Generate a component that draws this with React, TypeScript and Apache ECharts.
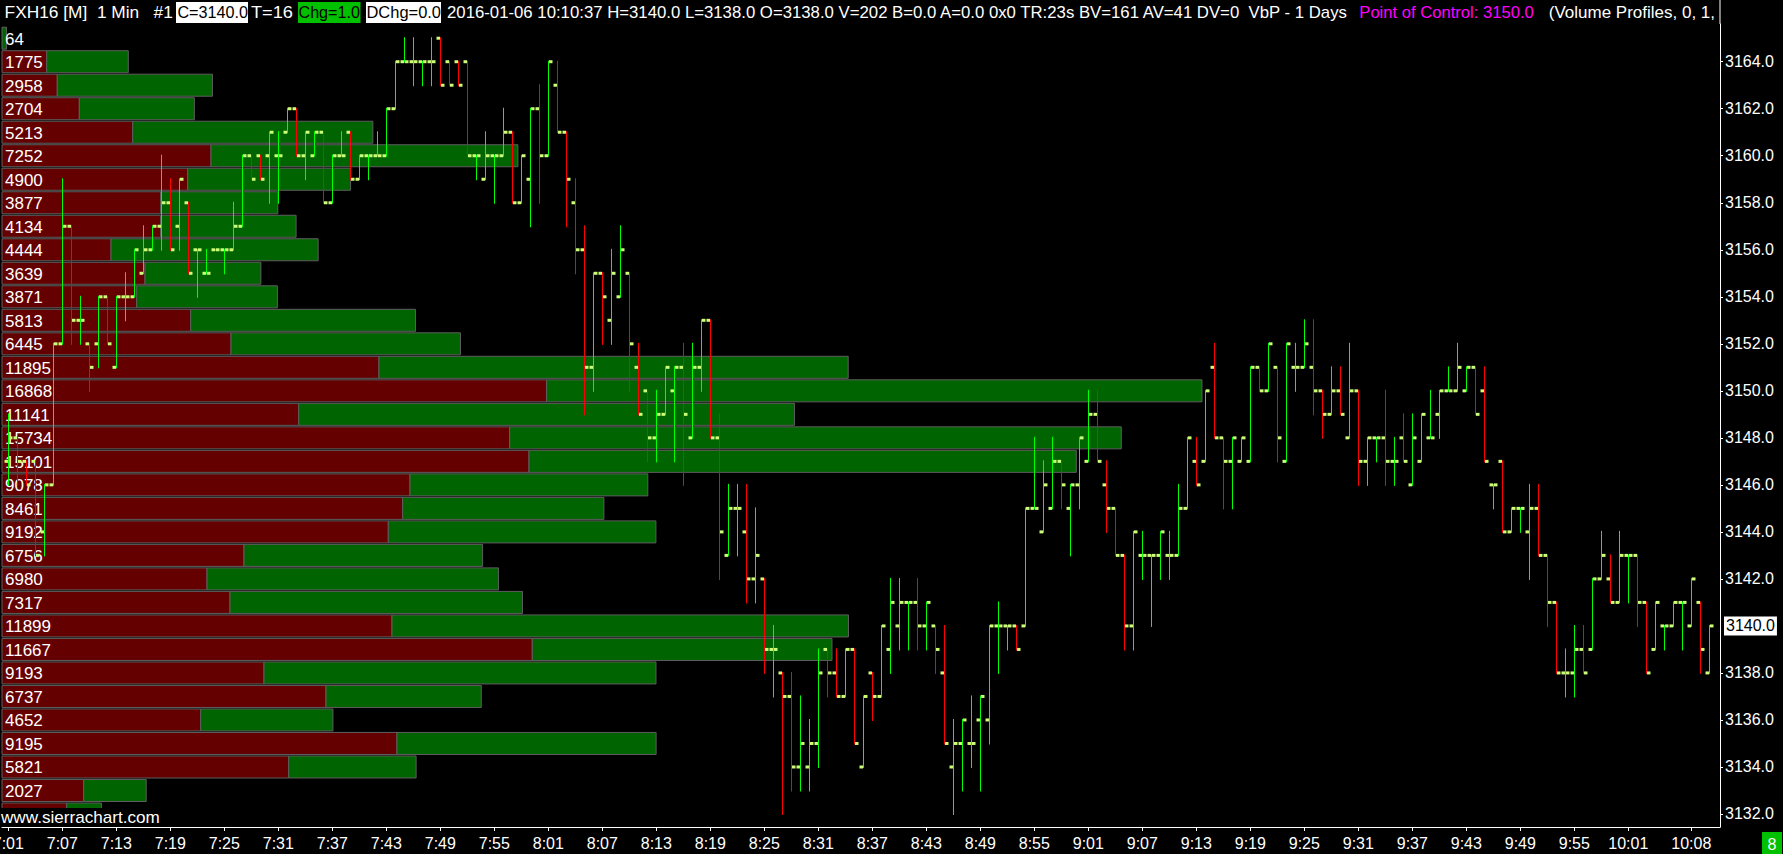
import React, { useEffect, useRef } from "react";
import * as echarts from "echarts";

const FONT = '"Liberation Sans", Arial, sans-serif';

// ---- Volume profile (one row per price level, top to bottom) ----
const profilePrices = [3165, 3164, 3163, 3162, 3161, 3160, 3159, 3158, 3157, 3156, 3155, 3154, 3153, 3152, 3151, 3150, 3149, 3148, 3147, 3146, 3145, 3144, 3143, 3142, 3141, 3140, 3139, 3138, 3137, 3136, 3135, 3134, 3133, 3132];
const profileTotals = [64, 1775, 2958, 2704, 5213, 7252, 4900, 3877, 4134, 4444, 3639, 3871, 5813, 6445, 11895, 16868, 11141, 15734, 15101, 9078, 8461, 9192, 6756, 6980, 7317, 11899, 11667, 9193, 6737, 4652, 9195, 5821, 2027, 1397];
const profileBid = [0, 628, 777, 1087, 1837, 2938, 2610, 2231, 2231, 1532, 2010, 1893, 2652, 3219, 5299, 7656, 4170, 7136, 7408, 5735, 5632, 5430, 3402, 2882, 3205, 5482, 7454, 3683, 4554, 2793, 5552, 4030, 1148, 909];

// ---- 1-minute OHLC bars from 7:01 ----
const opens = [3147,3148,3147,3147,3144,3146,3152,3157,3153,3152,3152,3154,3151,3154,3154,3155,3156,3157,3158,3157,3158,3156,3155,3156,3156,3156,3157,3160,3160,3160,3160,3161,3162,3160,3160,3161,3158,3160,3161,3159,3160,3160,3160,3162,3164,3164,3164,3164,3165,3164,3164,3164,3160,3159,3160,3160,3161,3158,3159,3162,3160,3163,3161,3158,3156,3151,3155,3153,3154,3155,3151,3150,3148,3149,3150,3151,3148,3151,3153,3148,3143,3145,3144,3142,3142,3139,3138,3137,3134,3134,3135,3139,3138,3137,3139,3134,3138,3137,3139,3140,3141,3141,3140,3140,3138,3134,3135,3135,3136,3136,3140,3140,3140,3140,3145,3144,3145,3147,3145,3146,3147,3149,3146,3145,3143,3140,3143,3143,3143,3143,3143,3145,3147,3147,3151,3148,3147,3147,3147,3151,3150,3151,3147,3151,3151,3151,3150,3149,3150,3148,3150,3147,3148,3148,3147,3148,3146,3147,3148,3149,3150,3150,3150,3151,3150,3146,3147,3144,3145,3144,3145,3143,3141,3138,3138,3139,3139,3142,3142,3141,3143,3143,3141,3139,3140,3140,3141,3140,3141,3138];
const highs = [3149,3148,3147,3147,3146,3152,3159,3157,3154,3152,3154,3154,3154,3155,3156,3157,3157,3160,3159,3159,3158,3156,3156,3156,3156,3158,3160,3160,3160,3161,3161,3162,3162,3161,3161,3161,3160,3161,3161,3160,3160,3161,3162,3164,3165,3165,3164,3165,3165,3164,3164,3164,3160,3161,3160,3162,3161,3160,3162,3163,3164,3164,3161,3159,3157,3155,3155,3156,3157,3155,3152,3150,3150,3151,3151,3152,3152,3153,3153,3149,3146,3146,3146,3145,3142,3140,3138,3138,3137,3136,3139,3139,3139,3139,3139,3137,3138,3140,3142,3142,3141,3142,3141,3140,3140,3136,3136,3137,3137,3140,3141,3140,3140,3145,3148,3147,3148,3147,3146,3148,3150,3150,3147,3145,3143,3144,3144,3143,3144,3144,3146,3148,3148,3150,3152,3148,3148,3148,3151,3151,3152,3151,3152,3152,3153,3153,3150,3151,3151,3152,3150,3148,3148,3150,3148,3149,3149,3149,3150,3150,3151,3152,3151,3151,3151,3146,3147,3145,3145,3146,3146,3143,3141,3139,3140,3140,3142,3144,3143,3144,3143,3143,3141,3141,3140,3141,3141,3142,3141,3140];
const lows = [3146,3146,3146,3143,3143,3146,3152,3152,3152,3150,3151,3152,3151,3153,3154,3155,3156,3156,3156,3156,3155,3154,3155,3156,3155,3156,3157,3159,3159,3158,3158,3161,3160,3159,3160,3158,3158,3160,3159,3159,3159,3160,3160,3162,3164,3163,3163,3163,3163,3163,3163,3160,3159,3159,3158,3160,3158,3158,3157,3158,3160,3161,3157,3155,3149,3150,3152,3152,3154,3150,3149,3147,3147,3149,3147,3146,3148,3150,3148,3142,3143,3143,3141,3141,3138,3137,3132,3133,3133,3133,3134,3137,3137,3137,3135,3134,3136,3137,3138,3139,3139,3139,3139,3138,3135,3132,3133,3134,3133,3135,3138,3139,3139,3140,3145,3144,3145,3145,3143,3145,3147,3147,3144,3143,3139,3139,3142,3140,3142,3142,3143,3145,3146,3147,3148,3145,3145,3147,3147,3150,3150,3147,3147,3150,3151,3149,3148,3149,3149,3148,3146,3146,3147,3146,3146,3147,3146,3147,3148,3148,3150,3150,3150,3149,3147,3145,3144,3144,3144,3142,3143,3140,3138,3137,3137,3138,3139,3142,3141,3141,3141,3140,3138,3139,3139,3140,3139,3140,3138,3138];
const closes = [3148,3147,3146,3143,3146,3152,3157,3153,3153,3151,3154,3152,3154,3154,3156,3156,3157,3158,3156,3159,3155,3156,3155,3156,3156,3157,3160,3159,3159,3161,3160,3162,3160,3161,3161,3158,3160,3160,3159,3160,3160,3160,3162,3164,3164,3164,3164,3164,3163,3163,3163,3160,3160,3160,3160,3161,3158,3160,3162,3160,3164,3161,3159,3156,3151,3155,3154,3155,3156,3152,3149,3148,3149,3151,3151,3149,3151,3153,3148,3144,3145,3145,3142,3143,3139,3139,3137,3134,3135,3135,3138,3138,3137,3139,3135,3137,3137,3140,3141,3141,3141,3140,3141,3139,3135,3135,3136,3135,3137,3140,3140,3140,3139,3145,3145,3146,3147,3146,3146,3148,3149,3147,3145,3143,3140,3144,3143,3143,3144,3143,3145,3148,3146,3150,3148,3147,3148,3148,3151,3150,3152,3148,3152,3151,3152,3150,3149,3150,3149,3150,3147,3148,3148,3147,3147,3147,3148,3149,3148,3150,3150,3151,3151,3149,3147,3146,3144,3145,3145,3145,3143,3141,3138,3138,3139,3138,3142,3143,3141,3143,3143,3141,3138,3141,3140,3141,3141,3142,3139,3140];

const START_MINUTE = 7 * 60 + 1;
const times = opens.map((_, i) => {
  const m = START_MINUTE + i;
  return `${Math.floor(m / 60)}:${String(m % 60).padStart(2, "0")}`;
});
const xTickLabels = ["7:01","7:07","7:13","7:19","7:25","7:31","7:37","7:43","7:49","7:55","8:01","8:07","8:13","8:19","8:25","8:31","8:37","8:43","8:49","8:55","9:01","9:07","9:13","9:19","9:25","9:31","9:37","9:43","9:49","9:55","10:01","10:08"];
const priceTickLabels = [3132, 3134, 3136, 3138, 3140, 3142, 3144, 3146, 3148, 3150, 3152, 3154, 3156, 3158, 3160, 3162, 3164];
const lastClose = closes[closes.length - 1];

const headerSegments = [
  "FXH16 [M]  1 Min   #1",
  "C=3140.0",
  "T=16",
  "Chg=1.0",
  "DChg=0.0",
  "2016-01-06 10:10:37 H=3140.0 L=3138.0 O=3138.0 V=202 B=0.0 A=0.0 0x0 TR:23s BV=161 AV=41 DV=0  VbP - 1 Days",
  "Point of Control: 3150.0",
  "(Volume Profiles, 0, 1,",
];

const Y_MIN = 3131.447;
const Y_MAX = 3165.604;

function measure(text: string, font: string) {
  const c = document.createElement("canvas").getContext("2d")!;
  c.font = font;
  return c.measureText(text).width;
}

function fitText(text: string, x0: number, x1: number, y: number, fill: string, font: string, z = 20) {
  const w = measure(text, font);
  return {
    type: "text",
    x: x0,
    y,
    scaleX: (x1 - x0) / w,
    z,
    style: { text, fill, font, verticalAlign: "middle", align: "left" },
  };
}

export default function App() {
  const ref = useRef<HTMLDivElement>(null);
  useEffect(() => {
    const chart = echarts.init(ref.current!, null, { renderer: "svg" });
    const labelSet = new Set(xTickLabels);
    const hFont = `16px ${FONT}`;

    const profileData = profilePrices.map((p, i) => [profileTotals[i], p, profileBid[i], profileTotals[i] - profileBid[i]]);
    const ohlcData = opens.map((o, i) => [i, o, highs[i], lows[i], closes[i]]);

    const renderProfile = (params: any, api: any) => {
      const total = api.value(0);
      const price = api.value(1);
      const bid = api.value(2);
      const p0 = api.coord([0, price]);
      const p1 = api.coord([bid, price]);
      const p2 = api.coord([total, price]);
      const h = api.size([0, 1])[1];
      const y = p0[1] - h / 2 + 0.75;
      const hh = h - 1.5;
      const children: any[] = [];
      if (bid > 0) {
        children.push({
          type: "rect",
          shape: { x: p0[0], y, width: p1[0] - p0[0], height: hh },
          style: { fill: "#640000", stroke: "#5e5e5e", lineWidth: 1 },
        });
      }
      children.push({
        type: "rect",
        shape: { x: p1[0], y, width: Math.max(1, p2[0] - p1[0]), height: hh },
        style: { fill: "#006400", stroke: "#5e5e5e", lineWidth: 1 },
      });
      children.push({
        type: "text",
        style: { text: String(total), x: p0[0] + 3, y: p0[1] + 1, fill: "#ffffff", font: `17px ${FONT}`, verticalAlign: "middle", align: "left" },
      });
      return { type: "group", children };
    };

    const renderBar = (params: any, api: any) => {
      const i = api.value(0);
      const o = api.value(1);
      const hi = api.value(2);
      const lo = api.value(3);
      const c = api.value(4);
      const pH = api.coord([i, hi]);
      const pL = api.coord([i, lo]);
      const pO = api.coord([i, o]);
      const pC = api.coord([i, c]);
      const x = Math.round(pH[0]) + 0.5;
      const color = c >= o ? "#00ff00" : "#ff0000";
      const tick = "#ccff77";
      return {
        type: "group",
        children: [
          { type: "line", shape: { x1: x, y1: pH[1] - 1, x2: x, y2: pL[1] + 1 }, style: { stroke: color, lineWidth: 1 } },
          { type: "rect", shape: { x: x - 4, y: pO[1] - 1.5, width: 3.5, height: 3 }, style: { fill: tick } },
          { type: "rect", shape: { x: x + 0.5, y: pC[1] - 1.5, width: 3.5, height: 3 }, style: { fill: tick } },
        ],
      };
    };

    const graphics: any[] = [
      { type: "line", shape: { x1: 1720, y1: 0, x2: 1720, y2: 24 }, style: { stroke: "#fff", lineWidth: 1 }, z: 20 },
      fitText(headerSegments[0], 4.6, 173, 12.5, "#ffffff", hFont),
      { type: "rect", shape: { x: 176, y: 2, width: 72, height: 21 }, style: { fill: "#ffffff" }, z: 19 },
      fitText(headerSegments[1], 177.4, 248, 12.5, "#000000", hFont),
      fitText(headerSegments[2], 251, 293, 12.5, "#ffffff", hFont),
      { type: "rect", shape: { x: 298, y: 2, width: 62.5, height: 21 }, style: { fill: "#00c000" }, z: 19 },
      fitText(headerSegments[3], 298.5, 360, 12.5, "#000000", hFont),
      { type: "rect", shape: { x: 366, y: 2, width: 75, height: 21 }, style: { fill: "#ffffff" }, z: 19 },
      fitText(headerSegments[4], 366.5, 441, 12.5, "#000000", hFont),
      fitText(headerSegments[5], 447, 1349.6, 12.5, "#ffffff", hFont),
      fitText(headerSegments[6], 1359.3, 1534, 12.5, "#ff00ff", hFont),
      fitText(headerSegments[7], 1548.8, 1715, 12.5, "#ffffff", hFont),
      { type: "rect", shape: { x: 0, y: 808, width: 163, height: 19 }, style: { fill: "#000000" }, z: 19 },
      fitText("www.sierrachart.com", 1, 160, 818, "#ffffff", hFont),
      { type: "rect", shape: { x: 1762, y: 832, width: 20, height: 22 }, style: { fill: "#00c000" }, z: 19 },
      { type: "text", x: 1772, y: 844, z: 20, style: { text: "8", fill: "#ffffff", font: hFont, align: "center", verticalAlign: "middle" } },
    ];

    const option: any = {
      animation: false,
      backgroundColor: "#000000",
      grid: [
        { left: 2, right: 63, top: 24, bottom: 27, containLabel: false, outerBoundsMode: "none" },
        { left: 3.8, width: 1710, top: 24, bottom: 27, containLabel: false, outerBoundsMode: "none" },
      ],
      xAxis: [
        {
          gridIndex: 0, type: "value", min: 0, max: 24150,
          axisLine: { show: true, onZero: false, lineStyle: { color: "#ffffff", width: 1 } },
          axisTick: { show: false }, axisLabel: { show: false }, splitLine: { show: false },
        },
        {
          gridIndex: 1, type: "category", data: times, boundaryGap: true,
          axisLine: { show: false },
          axisTick: { show: true, alignWithLabel: true, length: 4, interval: (_i: number, v: string) => labelSet.has(v), lineStyle: { color: "#ffffff" } },
          axisLabel: { interval: (_i: number, v: string) => labelSet.has(v), color: "#ffffff", fontFamily: FONT, fontSize: 16, margin: 8, alignMinLabel: "center" },
          splitLine: { show: false },
        },
      ],
      yAxis: [
        {
          gridIndex: 0, type: "value", position: "right", min: Y_MIN, max: Y_MAX,
          axisLine: { show: true, onZero: false, lineStyle: { color: "#ffffff", width: 1 } },
          axisTick: { show: true, length: 3, customValues: priceTickLabels.filter((v) => v !== lastClose), lineStyle: { color: "#ffffff" } },
          axisLabel: { customValues: priceTickLabels.filter((v) => v !== lastClose), formatter: (v: number) => v.toFixed(1), color: "#ffffff", fontFamily: FONT, fontSize: 16, margin: 5 },
          splitLine: { show: false },
        },
        {
          gridIndex: 0, type: "value", position: "right", min: Y_MIN, max: Y_MAX,
          axisLine: { show: false },
          axisTick: { show: true, length: 3, customValues: [lastClose], lineStyle: { color: "#ffffff" } },
          axisLabel: { customValues: [lastClose], formatter: (v: number) => v.toFixed(1), color: "#000000", backgroundColor: "#ffffff", padding: [2, 2, 1, 2], fontFamily: FONT, fontSize: 16, margin: 4 },
          splitLine: { show: false },
        },
        { gridIndex: 1, type: "value", min: Y_MIN, max: Y_MAX, show: false },
      ],
      series: [
        { type: "custom", xAxisIndex: 0, yAxisIndex: 0, data: profileData, encode: { x: 0, y: 1 }, renderItem: renderProfile, z: 1, silent: true },
        { type: "custom", xAxisIndex: 1, yAxisIndex: 2, data: ohlcData, encode: { x: 0, y: [1, 2, 3, 4] }, renderItem: renderBar, z: 3, silent: true },
      ],
      graphic: { elements: graphics },
    };
    chart.setOption(option);
    return () => chart.dispose();
  }, []);
  return (
    <div
      ref={ref}
      style={{ position: "fixed", left: 0, top: 0, width: 1783, height: 854, background: "#000000" }}
    />
  );
}
